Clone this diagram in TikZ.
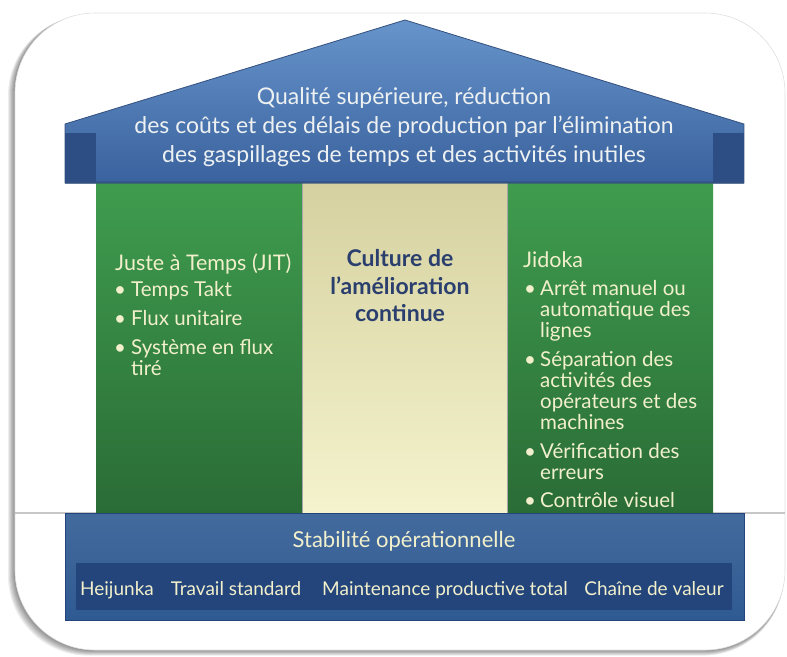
\documentclass[tikz,border=0pt]{standalone}
\usepackage{fontspec}
\setmainfont{Lato}
\definecolor{roofTop}{HTML}{6794CB}
\definecolor{roofBot}{HTML}{3A629E}
\definecolor{roofEdge}{HTML}{34507E}
\definecolor{tabC}{HTML}{2D4E84}
\definecolor{greenTop}{HTML}{3F9C4E}
\definecolor{greenBot}{HTML}{2A6C36}
\definecolor{beigeTop}{HTML}{D5D1A0}
\definecolor{beigeBot}{HTML}{F5F3CD}
\definecolor{baseC}{HTML}{2F5A92}
\definecolor{baseIn}{HTML}{23457B}
\definecolor{cream}{HTML}{F2F0CC}
\definecolor{navyT}{HTML}{2B3F6E}
\definecolor{roofText}{HTML}{EEF1F2}
\tikzset{
  rooftxt/.style={text=roofText, font=\fontsize{23}{27}\selectfont, anchor=base},
  pilltxt/.style={text=cream, font=\fontsize{20.5}{23}\selectfont, anchor=base west, inner sep=0pt},
  pilltitle/.style={text=cream, font=\fontsize{21.5}{25}\selectfont, anchor=base west, inner sep=0pt},
  bul/.style={text=cream, font=\fontsize{20.5}{23}\selectfont, anchor=base, inner sep=0pt},
  ctrtxt/.style={text=navyT, font=\bfseries\fontsize{23}{27}\selectfont, anchor=base},
  basetitle/.style={text=cream, font=\fontsize{22}{26}\selectfont, anchor=base},
  baseitem/.style={text=cream, font=\fontsize{19}{22}\selectfont, anchor=base, inner sep=0pt},
}
\begin{document}
\begin{tikzpicture}[x=1pt,y=-1pt]
\useasboundingbox (0,0) rectangle (787,656);
\fill[white] (0,0) rectangle (787,656);
% card shadow
\foreach \i in {1,...,7}
  \fill[black, opacity=0.07, rounded corners=80] (15-\i*1.0,13+\i*0.4) rectangle (785-\i*0.2,650+\i*0.8);
\fill[white, rounded corners=80] (15,13) rectangle (785,650);
\draw[black!12, line width=0.6, rounded corners=80] (15,13) rectangle (785,650);
% horizon line
\draw[black!22, line width=1.2] (15,513) -- (785,513);
% roof
\shade[top color=roofTop, bottom color=roofBot, draw=roofEdge, line width=0.8]
  (65,124) -- (405,20) -- (744,124) -- (744,183) -- (65,183) -- cycle;
\fill[tabC] (65,133) rectangle (96,183);
\fill[tabC] (713,133) rectangle (744,183);
% pillars
\shade[top color=greenTop, bottom color=greenBot] (96,183) rectangle (302,513);
\shade[top color=beigeTop, bottom color=beigeBot] (302,183) rectangle (507,513);
\shade[top color=greenTop, bottom color=greenBot] (507,183) rectangle (713,513);
\draw[black!35, line width=0.6] (302,183) -- (302,513) (507,183) -- (507,513);
\fill[roofEdge, opacity=0.6] (65,181) rectangle (744,184);
% base
\shade[top color=baseC!90!white, bottom color=baseC, draw=baseIn] (65,513) rectangle (744,620);
\fill[baseIn] (76,563) rectangle (732,610);
% roof text
\node[rooftxt] (r1) at (404,104) {Qualité supérieure, réduction};
\node[rooftxt] (r2) at (404,133) {des coûts et des délais de production par l’élimination};
\node[rooftxt] (r3) at (404,162) {des gaspillages de temps et des activités inutiles};
% left pillar
\node[pilltitle] (jit) at (115,270) {Juste à Temps (JIT)};
\node[bul] (lb1) at (120,296) {•};
\node[pilltxt] (l1) at (131,296) {Temps Takt};
\node[bul] (lb2) at (120,325) {•};
\node[pilltxt] (l2) at (131,325) {Flux unitaire};
\node[bul] (lb3) at (120,354) {•};
\node[pilltxt] (l3) at (131,354) {Système en flux};
\node[pilltxt] (l3b) at (131,375) {tiré};
% centre pillar
\node[ctrtxt] (c1) at (400,266) {Culture de};
\node[ctrtxt] (c2) at (400,294) {l’amélioration};
\node[ctrtxt] (c3) at (400,321) {continue};
% right pillar
\node[pilltitle] (jid) at (523,267) {Jidoka};
\node[bul] (rb1) at (530,295) {•};
\node[pilltxt] (j1) at (540,295) {Arrêt manuel ou};
\node[pilltxt] (j1b) at (540,316) {automatique des};
\node[pilltxt] (j1c) at (540,337) {lignes};
\node[bul] (rb2) at (530,366) {•};
\node[pilltxt] (j2) at (540,366) {Séparation des};
\node[pilltxt] (j2b) at (540,387) {activités des};
\node[pilltxt] (j2c) at (540,408) {opérateurs et des};
\node[pilltxt] (j2d) at (540,429) {machines};
\node[bul] (rb3) at (530,458) {•};
\node[pilltxt] (j3) at (540,458) {Vérification des};
\node[pilltxt] (j3b) at (540,479) {erreurs};
\node[bul] (rb4) at (530,507) {•};
\node[pilltxt] (j4) at (540,507) {Contrôle visuel};
% base text
\node[basetitle] (st) at (404,547) {Stabilité opérationnelle};
\node[baseitem] (b1) at (117,595) {Heijunka};
\node[baseitem] (b2) at (236,595) {Travail standard};
\node[baseitem] (b3) at (445,595) {Maintenance productive total};
\node[baseitem] (b4) at (654,595) {Chaîne de valeur};
\end{tikzpicture}
\end{document}
